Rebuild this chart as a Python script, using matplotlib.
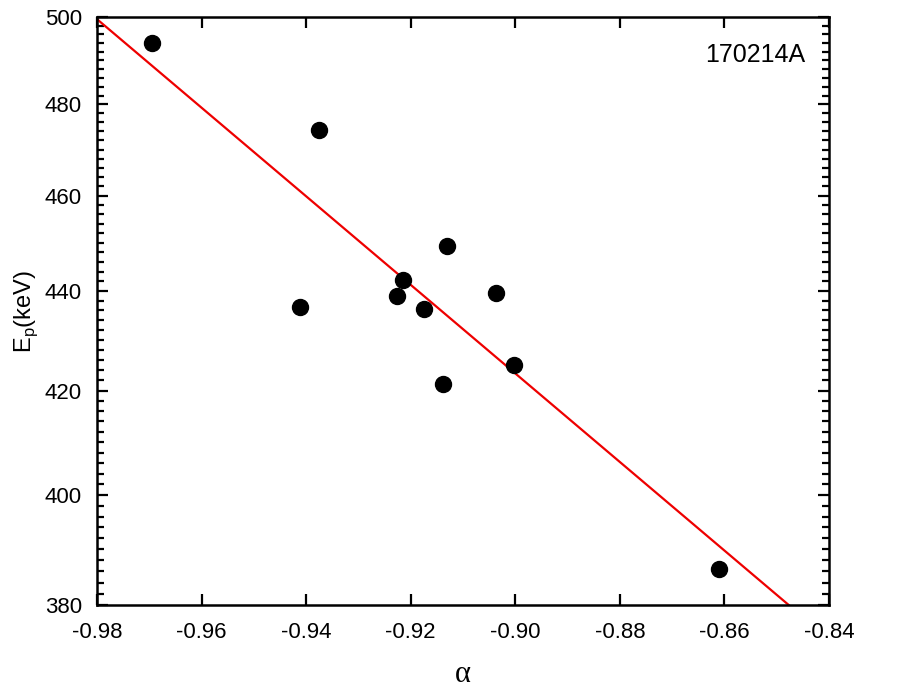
import numpy as np
import matplotlib
matplotlib.use('Agg')
import matplotlib.pyplot as plt
from matplotlib.ticker import FixedLocator, NullFormatter, NullLocator

# data
alpha = [-0.9695, -0.9375, -0.9412, -0.9226, -0.9215, -0.9175,
         -0.9131, -0.9138, -0.9037, -0.9003, -0.8610]
ep_kev = [494.0, 474.3, 436.8, 439.0, 442.2, 436.3,
          449.3, 421.3, 439.6, 425.0, 386.4]

# fitted line end points
fit_alpha = [-0.98, -0.8477]
fit_ep = [499.5, 380.0]

y_major = [380, 400, 420, 440, 460, 480, 500]
x_major = [-0.98, -0.96, -0.94, -0.92, -0.90, -0.88, -0.86, -0.84]
grb_name = '170214A'

plt.rcParams['font.family'] = ['Liberation Sans', 'DejaVu Sans']

fig = plt.figure(figsize=(9.17, 6.95), dpi=100)
ax = fig.add_axes([0.1058, 0.1295, 0.7982, 0.846])

ax.plot(fit_alpha, fit_ep, color='#ee0000', lw=1.6, zorder=2)
ax.plot(alpha, ep_kev, 'o', color='black', ms=11.5, zorder=3)

ax.set_yscale('log')
ax.set_xlim(-0.98, -0.84)
ax.set_ylim(380, 500)

ax.set_yticks(y_major, [str(v) for v in y_major], fontsize=16)
ax.yaxis.set_minor_locator(FixedLocator(np.arange(382, 500, 2)))
ax.yaxis.set_minor_formatter(NullFormatter())

ax.set_xticks(x_major, ['%.2f' % v for v in x_major], fontsize=16)
ax.xaxis.set_minor_locator(NullLocator())

ax.tick_params(which='both', direction='in', top=True, right=True, width=1.6)
ax.tick_params(axis='x', which='major', length=8, pad=12)
ax.tick_params(axis='y', which='major', length=8, pad=11)
ax.tick_params(which='minor', length=5)

for s in ax.spines.values():
    s.set_linewidth(1.8)

ax.set_xlabel('α', fontsize=22, family=['Liberation Serif', 'DejaVu Serif'],
              va='center')
ax.xaxis.set_label_coords(0.5, -0.118)
ax.set_ylabel(r'E$_\mathregular{p}$(keV)', fontsize=17, va='center')
ax.yaxis.set_label_coords(-0.097, 0.5)

ax.text(0.967, 0.955, grb_name, transform=ax.transAxes, fontsize=18,
        ha='right', va='top')

fig.savefig('out.png', dpi=100)
